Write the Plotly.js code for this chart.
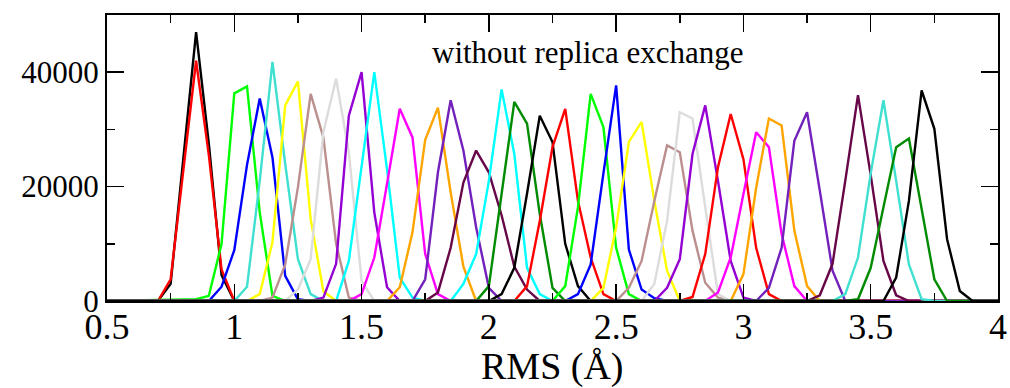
<!DOCTYPE html>
<html>
<head>
<meta charset="utf-8">
<script src="https://cdn.plot.ly/plotly-3.0.1.min.js"></script>
<style>
  html, body { margin: 0; padding: 0; background: #fff; }
  #chart { width: 1010px; height: 388px; }
</style>
</head>
<body>
<div id="chart"></div>
<script>
// Histogram bin width (Å) and plotted range
const binWidth = 0.05;
const xRange = [0.5, 4.0];

// Series: colour, first bin centre, counts per bin
const seriesColors = [
  '#000000', '#ff0000', '#00ff00', '#0000ff', '#40e0d0', '#ffff00', '#bc8f8f', '#dcdcdc',
  '#9400d3', '#00ffff', '#ff00ff', '#ffa500', '#7221bc', '#670748', '#00ffff', '#008b00',
  '#000000', '#ff0000', '#00ff00', '#0000ff', '#ffff00', '#bc8f8f', '#dcdcdc', '#9400d3',
  '#ff0000', '#ff00ff', '#ffa500', '#7221bc', '#670748', '#40e0d0', '#008b00', '#000000'
];
const seriesStart = [
  0.70, 0.70, 0.85, 0.90, 1.00, 1.05, 1.10, 1.20,
  1.30, 1.40, 1.45, 1.60, 1.70, 1.75, 1.85, 1.95,
  2.00, 2.10, 2.25, 2.30, 2.40, 2.50, 2.60, 2.65,
  2.75, 2.85, 2.95, 3.05, 3.25, 3.35, 3.40, 3.50
];
const s01 = [0, 3000, 25000, 47000, 27500, 4500, 0];
const s02 = [0, 3800, 23000, 42000, 25500, 5500, 0];
const s03 = [300, 900, 10000, 36300, 37500, 15500, 900, 0];
const s04 = [0, 2500, 8900, 23800, 35400, 25100, 4400, 300, 0];
const s05 = [0, 2500, 21000, 41800, 24000, 7300, 1200, 0];
const s06 = [0, 1200, 10300, 34200, 38400, 14300, 1700, 0];
const s07 = [0, 600, 6400, 19900, 36200, 28600, 10000, 600, 0];
const s08 = [0, 2000, 7300, 29500, 38900, 26000, 3500, 0];
const s09 = [0, 600, 6500, 32400, 40000, 15500, 2400, 0];
const s10 = [0, 7000, 24000, 40000, 23000, 4100, 600, 0];
const s11 = [0, 1200, 7600, 20500, 33600, 28600, 8200, 1200, 0];
const s12 = [0, 2400, 12000, 28200, 33800, 19000, 6000, 0];
const s13 = [0, 3800, 22500, 35100, 26300, 12900, 2300, 0];
const s14 = [0, 1500, 9300, 20700, 26300, 22500, 15000, 6000, 2000, 0];
const s15 = [0, 3000, 8200, 21000, 37000, 25700, 5800, 1200, 0];
const s16 = [0, 2600, 18700, 34800, 31000, 15200, 2300, 0];
const s17 = [0, 1200, 5800, 18800, 32400, 27800, 10000, 2600, 0];
const s18 = [0, 2600, 14000, 26900, 33600, 17500, 7600, 1200, 0];
const s19 = [0, 2600, 16400, 36200, 30400, 9300, 1200, 0];
const s20 = [0, 1200, 6400, 22300, 37700, 9000, 2000, 500, 0];
const s21 = [0, 2300, 12900, 27800, 31300, 17500, 5300, 0];
const s22 = [0, 2300, 7000, 17500, 27200, 26000, 12300, 3200, 600, 0];
const s23 = [0, 3000, 14000, 33000, 31900, 16400, 1200, 0];
const s24 = [0, 2300, 7300, 25700, 34200, 21000, 7000, 600, 0];
const s25 = [0, 700, 8200, 23400, 32700, 24800, 9300, 1200, 0];
const s26 = [0, 1500, 7600, 18700, 29500, 26900, 11700, 2600, 0];
const s27 = [0, 4700, 19800, 31900, 30700, 12300, 2600, 0];
const s28 = [0, 2300, 9300, 28000, 33000, 19300, 5300, 0];
const s29 = [0, 1000, 6500, 21000, 36000, 22000, 7000, 1000, 0];
const s30 = [0, 1200, 7600, 22300, 35100, 21000, 6400, 300, 0];
const s31 = [0, 300, 5800, 16400, 26900, 28400, 16400, 3800, 0];
const s32 = [0, 0, 4100, 17500, 36800, 30100, 10800, 1750, 0];
const seriesCounts = [s01, s02, s03, s04, s05, s06, s07, s08, s09, s10, s11, s12, s13, s14, s15, s16,
                      s17, s18, s19, s20, s21, s22, s23, s24, s25, s26, s27, s28, s29, s30, s31, s32];

// Tick labels
const xTickVals = [0.5, 1, 1.5, 2, 2.5, 3, 3.5, 4];
const xTickText = ['0.5', '1', '1.5', '2', '2.5', '3', '3.5', '4'];
const yTickVals = [0, 20000, 40000];
const yTickText = ['0', '20000', '40000'];

const chartTitle = 'without replica exchange';
const xTitle = 'RMS (Å)';

const serif = '"Liberation Serif", "Times New Roman", Times, serif';

const traces = seriesCounts.map((counts, k) => {
  const x = [xRange[0]];
  const y = [0];
  counts.forEach((c, i) => {
    x.push(+(seriesStart[k] + i * binWidth).toFixed(3));
    y.push(c);
  });
  x.push(xRange[1]);
  y.push(0);
  return {
    type: 'scatter', mode: 'lines', x: x, y: y,
    line: { color: seriesColors[k], width: 2.4 },
    hoverinfo: 'skip', showlegend: false
  };
});

const layout = {
  width: 1010, height: 388,
  margin: { l: 107, r: 12, t: 15, b: 87 },
  paper_bgcolor: '#ffffff', plot_bgcolor: '#ffffff',
  font: { family: serif, color: '#000000' },
  showlegend: false,
  xaxis: {
    range: xRange, showgrid: false, zeroline: false,
    showline: true, linecolor: '#000000', linewidth: 2, mirror: 'ticks',
    ticks: 'inside', ticklen: 17, tickwidth: 1.5, tickcolor: '#000000',
    tickmode: 'array', tickvals: xTickVals, ticktext: xTickText,
    ticklabelstandoff: -7,
    tickfont: { family: serif, size: 36, color: '#000000' },
    minor: { dtick: 0.25, ticks: 'inside', ticklen: 8, tickwidth: 1.5, tickcolor: '#000000', showgrid: false }
  },
  yaxis: {
    range: [0, 50000], showgrid: false, zeroline: false,
    showline: true, linecolor: '#000000', linewidth: 2, mirror: 'ticks',
    ticks: 'inside', ticklen: 17, tickwidth: 1.5, tickcolor: '#000000',
    tickmode: 'array', tickvals: yTickVals, ticktext: yTickText,
    tickfont: { family: serif, size: 31, color: '#000000' },
    minor: { dtick: 10000, ticks: 'inside', ticklen: 8, tickwidth: 1.5, tickcolor: '#000000', showgrid: false }
  },
  annotations: [
    {
      text: chartTitle, xref: 'paper', yref: 'paper', x: 0.54, y: 0.87,
      xanchor: 'center', yanchor: 'middle', showarrow: false,
      font: { family: serif, size: 31, color: '#000000' }
    },
    {
      text: xTitle, xref: 'paper', yref: 'paper', x: 0.5, y: -0.228,
      xanchor: 'center', yanchor: 'middle', showarrow: false,
      font: { family: serif, size: 38, color: '#000000' }
    }
  ]
};

Plotly.newPlot('chart', traces, layout, { displayModeBar: false, staticPlot: true });
</script>
</body>
</html>
